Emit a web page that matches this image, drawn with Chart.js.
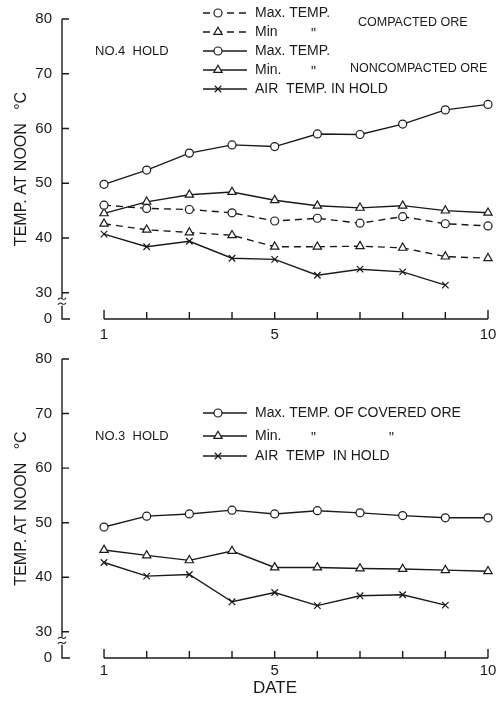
<!DOCTYPE html>
<html>
<head>
<meta charset="utf-8">
<script src="https://cdn.jsdelivr.net/npm/chart.js@4.4.0/dist/chart.umd.min.js"></script>
<style>
  body { margin: 0; background: #fff; }
  #wrap { position: relative; width: 504px; height: 702px; }
  canvas { position: absolute; left: 0; }
  #hold4 { top: 0; }
  #hold3 { top: 340px; }
</style>
</head>
<body>
<div id="wrap">
  <canvas id="hold4" width="504" height="340" style="width:504px;height:340px"></canvas>
  <canvas id="hold3" width="504" height="362" style="width:504px;height:362px"></canvas>
</div>
<script>
const days = [1, 2, 3, 4, 5, 6, 7, 8, 9, 10];
const yTicks = [30, 40, 50, 60, 70, 80];
const xLabelDays = [1, 5, 10];

// No.4 hold
const compactedMax = [46.0, 45.4, 45.2, 44.6, 43.1, 43.6, 42.7, 43.9, 42.6, 42.2];
const compactedMin = [42.6, 41.5, 41.0, 40.5, 38.4, 38.4, 38.5, 38.2, 36.6, 36.3];
const noncompactedMax = [49.8, 52.4, 55.5, 57.0, 56.7, 59.0, 58.9, 60.8, 63.4, 64.4];
const noncompactedMin = [44.5, 46.6, 47.9, 48.4, 46.9, 45.9, 45.5, 45.9, 45.0, 44.6];
const airNo4 = [40.7, 38.4, 39.4, 36.3, 36.1, 33.2, 34.3, 33.8, 31.4];

// No.3 hold
const coveredMax = [49.2, 51.2, 51.6, 52.3, 51.6, 52.2, 51.8, 51.3, 50.9, 50.9];
const coveredMin = [45.0, 44.0, 43.1, 44.8, 41.8, 41.8, 41.6, 41.5, 41.3, 41.1];
const airNo3 = [42.7, 40.2, 40.5, 35.5, 37.2, 34.8, 36.6, 36.8, 34.9];

const INK = '#1a1a1a';
const FONT = '"Liberation Sans", Arial, sans-serif';
const Y_ZERO = 25.2; // bottom of the broken axis, labelled 0

function points(values) {
  return values.map((v, i) => ({ x: days[i], y: v }));
}

function pointSize(style) {
  if (style === 'triangle') return 4.8;
  if (style === 'crossRot') return 4.6;
  return 4;
}

function series(label, values, style, dashed) {
  return {
    label: label,
    data: points(values),
    borderColor: INK,
    borderWidth: 1.4,
    borderDash: dashed ? [7, 5] : [],
    pointStyle: style,
    pointRadius: pointSize(style),
    pointBorderWidth: 1.2,
    pointBorderColor: INK,
    pointBackgroundColor: '#fff',
    tension: 0,
    clip: false
  };
}

// y axis with a break between 30 and 0, x axis with upward ticks
const brokenAxes = {
  id: 'brokenAxes',
  beforeDatasetsDraw(chart) {
    const { ctx, chartArea, scales: { x, y } } = chart;
    const ax = chartArea.left;
    const y30 = y.getPixelForValue(30);
    const y0 = y.getPixelForValue(Y_ZERO);
    ctx.save();
    ctx.strokeStyle = INK;
    ctx.lineWidth = 1.4;
    ctx.beginPath();
    ctx.moveTo(ax, y.getPixelForValue(80));
    ctx.lineTo(ax, y30 + 5);
    ctx.moveTo(ax, y30 + 13);
    ctx.lineTo(ax, y0);
    ctx.lineTo(ax + 8, y0);
    yTicks.forEach(v => {
      const py = y.getPixelForValue(v);
      ctx.moveTo(ax, py);
      ctx.lineTo(ax + 7, py);
    });
    ctx.stroke();

    ctx.lineWidth = 1.1;
    [y30 + 6, y30 + 11].forEach(by => {
      ctx.beginPath();
      ctx.moveTo(ax - 4, by + 1);
      ctx.bezierCurveTo(ax - 1, by - 4, ax + 1, by + 4, ax + 4, by - 1);
      ctx.stroke();
    });

    const xb = chartArea.bottom;
    ctx.lineWidth = 1.4;
    ctx.beginPath();
    ctx.moveTo(x.getPixelForValue(days[0]), xb);
    ctx.lineTo(x.getPixelForValue(days[days.length - 1]), xb);
    days.forEach((d, i) => {
      const px = x.getPixelForValue(d);
      const h = (i === 0 || i === days.length - 1) ? 9 : 7;
      ctx.moveTo(px, xb);
      ctx.lineTo(px, xb - h);
    });
    ctx.stroke();
    ctx.restore();
  }
};

// key with line samples and group captions
const holdKey = {
  id: 'holdKey',
  afterDraw(chart, args, opts) {
    const { ctx } = chart;
    ctx.save();
    ctx.fillStyle = INK;
    ctx.textBaseline = 'middle';
    opts.rows.forEach(row => {
      const ds = chart.data.datasets[row.ds];
      ctx.strokeStyle = INK;
      ctx.lineWidth = 1.4;
      ctx.setLineDash(ds.borderDash);
      ctx.beginPath();
      ctx.moveTo(203, row.y);
      ctx.lineTo(247, row.y);
      ctx.stroke();
      ctx.setLineDash([]);
      ctx.fillStyle = '#fff';
      ctx.lineWidth = ds.pointBorderWidth;
      Chart.helpers.drawPoint(ctx, {
        pointStyle: ds.pointStyle,
        radius: ds.pointRadius,
        borderWidth: ds.pointBorderWidth,
        rotation: 0
      }, 218, row.y);
      ctx.fillStyle = INK;
      ctx.font = '14px ' + FONT;
      ctx.fillText(ds.label, 255, row.y);
      (row.ditto || []).forEach(dx => ctx.fillText('"', dx, row.y + 2));
    });
    opts.captions.forEach(c => {
      ctx.font = c.size + 'px ' + FONT;
      ctx.fillText(c.text, c.x, c.y);
    });
    ctx.restore();
  }
};

function makeChart(id, datasets, opt) {
  const ctx = document.getElementById(id).getContext('2d');
  return new Chart(ctx, {
    type: 'line',
    data: { datasets: datasets },
    plugins: [brokenAxes, holdKey],
    options: {
      responsive: false,
      animation: false,
      layout: { padding: { top: opt.padTop, right: 16, left: 0, bottom: 0 } },
      plugins: {
        legend: { display: false },
        tooltip: { enabled: false },
        holdKey: { rows: opt.rows, captions: opt.captions }
      },
      scales: {
        x: {
          type: 'linear',
          min: 0.015,
          max: 10,
          grid: { display: false, drawTicks: false },
          border: { display: false },
          afterBuildTicks: s => { s.ticks = days.map(d => ({ value: d })); },
          afterFit: s => { s.height = opt.xHeight; },
          ticks: {
            color: INK,
            font: { family: FONT, size: 15 },
            padding: opt.xPad,
            maxRotation: 0,
            autoSkip: false,
            callback: v => xLabelDays.includes(v) ? String(v) : ''
          },
          title: {
            display: !!opt.xTitle,
            text: opt.xTitle || '',
            color: INK,
            font: { family: FONT, size: 17 },
            padding: { top: 0, bottom: 3 }
          }
        },
        y: {
          min: Y_ZERO,
          max: 80,
          grid: { display: false, drawTicks: false },
          border: { display: false },
          afterBuildTicks: s => { s.ticks = [Y_ZERO].concat(yTicks).map(v => ({ value: v })); },
          afterFit: s => { s.width = 62; },
          ticks: {
            color: INK,
            font: { family: FONT, size: 15 },
            padding: 10,
            callback: v => v < 30 ? '0' : String(v)
          },
          title: {
            display: true,
            text: 'TEMP. AT NOON   °C',
            color: INK,
            font: { family: FONT, size: 16 },
            padding: { top: 12, bottom: 0 }
          }
        }
      }
    }
  });
}

makeChart('hold4', [
  series('Max. TEMP.', compactedMax, 'circle', true),
  series('Min', compactedMin, 'triangle', true),
  series('Max. TEMP.', noncompactedMax, 'circle', false),
  series('Min.', noncompactedMin, 'triangle', false),
  series('AIR  TEMP. IN HOLD', airNo4, 'crossRot', false)
], {
  padTop: 12,
  xHeight: 21,
  xPad: 7,
  rows: [
    { ds: 0, y: 13 },
    { ds: 1, y: 32, ditto: [311] },
    { ds: 2, y: 51 },
    { ds: 3, y: 70, ditto: [311] },
    { ds: 4, y: 89 }
  ],
  captions: [
    { text: 'COMPACTED ORE', x: 358, y: 23, size: 12.5 },
    { text: 'NONCOMPACTED ORE', x: 350, y: 69, size: 12.5 },
    { text: 'NO.4  HOLD', x: 95, y: 51, size: 13 }
  ]
});

makeChart('hold3', [
  series('Max. TEMP. OF COVERED ORE', coveredMax, 'circle', false),
  series('Min.', coveredMin, 'triangle', false),
  series('AIR  TEMP  IN HOLD', airNo3, 'crossRot', false)
], {
  padTop: 10,
  xHeight: 44,
  xPad: 4,
  xTitle: 'DATE',
  rows: [
    { ds: 0, y: 73 },
    { ds: 1, y: 96, ditto: [311, 389] },
    { ds: 2, y: 116 }
  ],
  captions: [
    { text: 'NO.3  HOLD', x: 95, y: 96, size: 13 }
  ]
});
</script>
</body>
</html>
